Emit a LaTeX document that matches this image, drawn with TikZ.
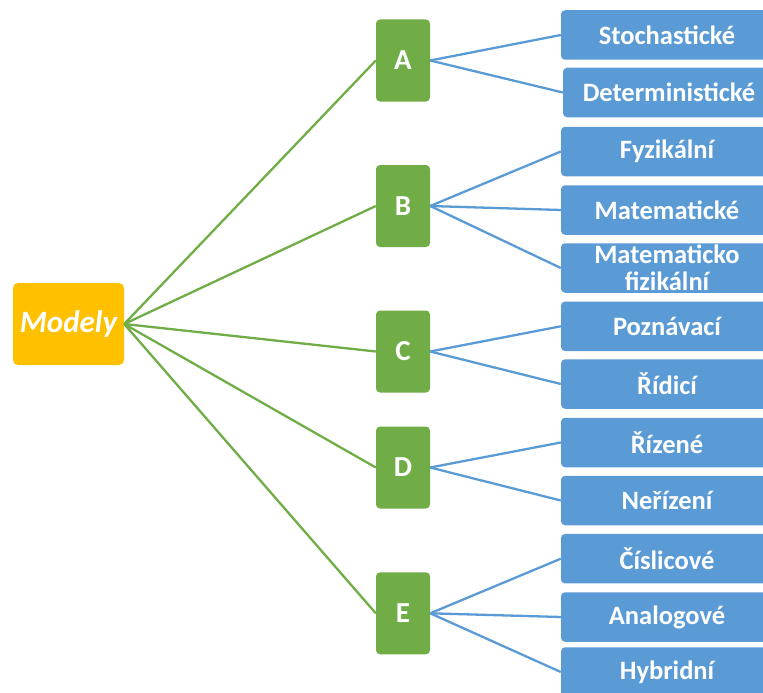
\documentclass[tikz,border=0pt]{standalone}
\usepackage{fontspec}
\setmainfont{Carlito}
\definecolor{orng}{HTML}{FFC000}
\definecolor{grn}{HTML}{70AD47}
\definecolor{blu}{HTML}{5B9BD5}
\begin{document}
\begin{tikzpicture}[x=1pt,y=-1pt,
  rootbox/.style={fill=orng, rounded corners=5pt, minimum width=111pt, minimum height=82pt, inner sep=0pt, text=white, font=\fontsize{31}{33}\selectfont\bfseries\itshape},
  letterbox/.style={fill=grn, rounded corners=4pt, minimum width=54pt, minimum height=82pt, inner sep=0pt, text=white, font=\fontsize{29}{31}\selectfont\bfseries},
  leafbox/.style={fill=blu, rounded corners=4pt, minimum width=212pt, minimum height=49.5pt, inner sep=0pt, text=white, align=center, font=\fontsize{26.5}{27}\selectfont\bfseries},
  gline/.style={draw=grn, line width=2.3pt},
  bline/.style={draw=blu, line width=2.3pt}]
\path[use as bounding box] (0,0) rectangle (763,693);
\clip (0,0) rectangle (763,693);
\node[rootbox] (M) at (68.5,324) {Modely};
\node[letterbox] (A) at (403,60.5) {A};
\node[letterbox] (B) at (403,206) {B};
\node[letterbox] (C) at (403,351.5) {C};
\node[letterbox] (D) at (403,467.5) {D};
\node[letterbox] (E) at (403,613.3) {E};
\node[leafbox] (a1) at (667,35) {Stochastické};
\node[leafbox] (a2) at (669,92.5) {Deterministické};
\node[leafbox] (b1) at (667,151.5) {Fyzikální};
\node[leafbox] (b2) at (667,210) {Matematické};
\node[leafbox] (b3) at (667,268) {Matematicko\\fizikální};
\node[leafbox] (c1) at (667,326.3) {Poznávací};
\node[leafbox] (c2) at (667,384) {Řídicí};
\node[leafbox] (d1) at (667,442.5) {Řízené};
\node[leafbox] (d2) at (667,500.5) {Neřízení};
\node[leafbox] (e1) at (667,558.7) {Číslicové};
\node[leafbox] (e2) at (667,617) {Analogové};
\node[leafbox] (e3) at (667,672) {Hybridní};
\foreach \g in {A,B,C,D,E} \draw[gline] (M.east) -- (\g.west);
\foreach \g/\l in {A/a1,A/a2,B/b1,B/b2,B/b3,C/c1,C/c2,D/d1,D/d2,E/e1,E/e2,E/e3}
  \draw[bline] (\g.east) -- (\l.west);
\end{tikzpicture}
\end{document}
